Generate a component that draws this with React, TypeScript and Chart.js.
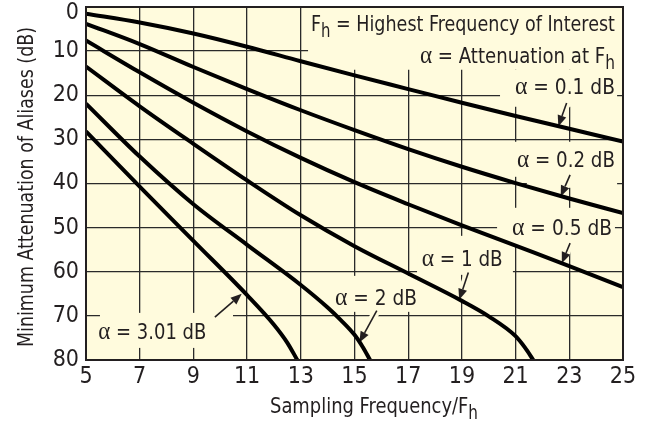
import { useEffect, useRef } from 'react';
import { Chart, registerables } from 'chart.js';

Chart.register(...registerables);

// ---------- data ----------
const xTicks = [5, 7, 9, 11, 13, 15, 17, 19, 21, 23, 25];
const yTicks = [0, 10, 20, 30, 40, 50, 60, 70, 80];

const freqFull = [5, 7, 9, 11, 13, 15, 17, 19, 21, 23, 25];
const att01 = [1.5, 3.5, 6.0, 9.0, 12.3, 15.5, 18.6, 21.7, 24.7, 27.6, 30.5];
const att02 = [3.8, 8.4, 13.6, 18.6, 23.4, 27.9, 32.2, 36.2, 39.9, 43.4, 46.7];
const att05 = [7.6, 14.8, 21.7, 28.2, 34.2, 39.7, 44.7, 49.5, 54.1, 58.7, 63.5];
const freq1 = [5, 7, 9, 11, 13, 15, 17, 19, 20, 21, 21.35, 21.66];
const att1 = [13.5, 22.5, 31.0, 39.3, 47.2, 54.2, 60.4, 66.6, 70.1, 74.6, 77.2, 80];
const freq2 = [5, 7, 9, 11, 13, 14, 14.5, 15, 15.3, 15.58];
const att2 = [21.9, 33.9, 44.7, 53.9, 63.0, 68.1, 71.0, 74.3, 77.0, 80];
const freq301 = [5, 7, 9, 11, 12, 12.5, 12.87];
const att301 = [28.2, 40.7, 53.0, 65.3, 72.0, 76.1, 80];

const alpha = 'α';
const curveLabels = [' = 0.1 dB', ' = 0.2 dB', ' = 0.5 dB', ' = 1 dB', ' = 2 dB', ' = 3.01 dB'];
const legendLine1 = ['F', 'h', ' = Highest Frequency of Interest'];
const legendLine2 = [' = Attenuation at F', 'h'];
const xTitle = ['Sampling Frequency/F', 'h'];
const yTitle = 'Minimum Attenuation of Aliases (dB)';

// ---------- styling ----------
const FONT = "'Liberation Sans Narrow', 'DejaVu Sans Condensed', 'Liberation Sans', sans-serif";
const SERIF = "'Liberation Serif', 'DejaVu Serif', serif";
const BG = '#fffbdd';
const INK = '#231f20';
const GRID = '#2a2a2a';

type Run = { t: string; sub?: boolean; serif?: boolean };
type Note = { runs: Run[]; x: number; y: number; align: 'left' | 'right'; w: number; size: number };
type Arrow = { x0: number; y0: number; x1: number; y1: number };
type Box = [number, number, number, number];

const pts = (xs: number[], ys: number[]) => xs.map((x, i) => ({ x, y: ys[i] }));
const lab = (i: number): Run[] => [{ t: alpha, serif: true }, { t: curveLabels[i] }];

// annotation geometry in data units
const notes: Note[] = [
  { runs: [{ t: legendLine1[0] }, { t: legendLine1[1], sub: true }, { t: legendLine1[2] }], x: 24.7, y: 5.53, align: 'right', w: 304, size: 22 },
  { runs: [{ t: alpha, serif: true }, { t: legendLine2[0] }, { t: legendLine2[1], sub: true }], x: 24.7, y: 12.7, align: 'right', w: 195, size: 22 },
  { runs: lab(0), x: 24.7, y: 19.73, align: 'right', w: 100, size: 22 },
  { runs: lab(1), x: 24.7, y: 36.15, align: 'right', w: 98, size: 22 },
  { runs: lab(2), x: 24.59, y: 51.63, align: 'right', w: 100, size: 22 },
  { runs: lab(3), x: 17.5, y: 58.66, align: 'left', w: 81, size: 22 },
  { runs: lab(4), x: 14.27, y: 67.5, align: 'left', w: 82, size: 22 },
  { runs: lab(5), x: 5.46, y: 75.28, align: 'left', w: 108, size: 22 },
];

const arrows: Arrow[] = [
  { x0: 22.9, y0: 21.77, x1: 22.59, y1: 27.07 },
  { x0: 23.03, y0: 38.03, x1: 22.68, y1: 42.95 },
  { x0: 23.03, y0: 53.51, x1: 22.72, y1: 58.05 },
  { x0: 19.24, y0: 60.18, x1: 18.9, y1: 66.37 },
  { x0: 15.83, y0: 68.8, x1: 15.18, y1: 76.05 },
  { x0: 9.8, y0: 70.29, x1: 10.8, y1: 65.01 },
];

const boxes: Box[] = [
  [13.27, 0, 25, 14.22],
  [20.42, 14.22, 24.78, 22.61],
  [20.79, 30.54, 24.78, 38.48],
  [21.42, 38.48, 24.78, 40.97],
  [20.31, 45.51, 24.7, 53.9],
  [17.33, 51.86, 20.9, 60.7],
  [14.2, 60.93, 17.44, 69.09],
  [5.52, 69.32, 10.475, 77.26],
];

function fontFor(r: Run, size: number) {
  const s = r.sub ? size * 0.85 : r.serif ? size * 1.15 : size;
  return `${s}px ${r.serif ? SERIF : FONT}`;
}

function drawRuns(ctx: CanvasRenderingContext2D, runs: Run[], px: number, py: number, align: 'left' | 'right' | 'center', w: number, size: number) {
  ctx.save();
  const widths = runs.map((r) => {
    ctx.font = fontFor(r, size);
    return ctx.measureText(r.t).width;
  });
  const total = widths.reduce((a, b) => a + b, 0);
  const sx = w / total;
  const start = align === 'right' ? px - w : align === 'center' ? px - w / 2 : px;
  ctx.translate(start, py);
  ctx.scale(sx, 1);
  ctx.fillStyle = INK;
  ctx.textBaseline = 'alphabetic';
  ctx.textAlign = 'left';
  let cx = 0;
  runs.forEach((r, i) => {
    ctx.font = fontFor(r, size);
    ctx.fillText(r.t, cx, r.sub ? size * 0.25 : 0);
    cx += widths[i];
  });
  ctx.restore();
}

const decorPlugin = {
  id: 'decor',
  beforeDraw(chart: any) {
    const { ctx, chartArea: a } = chart;
    ctx.save();
    ctx.fillStyle = BG;
    ctx.fillRect(a.left, a.top, a.right - a.left, a.bottom - a.top);
    ctx.restore();
  },
  beforeDatasetsDraw(chart: any) {
    const { ctx, chartArea: a, scales } = chart;
    const X = (v: number) => scales.x.getPixelForValue(v);
    const Y = (v: number) => scales.y.getPixelForValue(v);
    ctx.save();
    ctx.beginPath();
    ctx.rect(a.left, a.top, a.right - a.left, a.bottom - a.top);
    ctx.clip();
    ctx.fillStyle = BG;
    boxes.forEach(([x0, y0, x1, y1]) => {
      const l = X(x0), r = X(x1), t = Y(y0), b = Y(y1);
      ctx.fillRect(l, t, r - l, b - t);
    });
    arrows.forEach((ar) => {
      ctx.strokeStyle = BG;
      ctx.lineWidth = 8;
      ctx.beginPath();
      ctx.moveTo(X(ar.x0), Y(ar.y0));
      ctx.lineTo(X(ar.x1), Y(ar.y1));
      ctx.stroke();
    });
    arrows.forEach((ar) => {
      const x0 = X(ar.x0), y0 = Y(ar.y0), x1 = X(ar.x1), y1 = Y(ar.y1);
      const ang = Math.atan2(y1 - y0, x1 - x0);
      const L = 11, H = 4.5;
      const bx = x1 - L * Math.cos(ang), by = y1 - L * Math.sin(ang);
      ctx.strokeStyle = INK;
      ctx.lineWidth = 1.6;
      ctx.beginPath();
      ctx.moveTo(x0, y0);
      ctx.lineTo(bx, by);
      ctx.stroke();
      ctx.fillStyle = INK;
      ctx.beginPath();
      ctx.moveTo(x1, y1);
      ctx.lineTo(bx + H * Math.sin(ang), by - H * Math.cos(ang));
      ctx.lineTo(bx - H * Math.sin(ang), by + H * Math.cos(ang));
      ctx.closePath();
      ctx.fill();
    });
    notes.forEach((n) => drawRuns(ctx, n.runs, X(n.x), Y(n.y), n.align, n.w, n.size));
    ctx.restore();
  },
  afterDatasetsDraw(chart: any) {
    const { ctx, chartArea: a } = chart;
    ctx.save();
    ctx.strokeStyle = INK;
    ctx.lineWidth = 2;
    ctx.strokeRect(a.left, a.top, a.right - a.left, a.bottom - a.top);
    ctx.restore();
  },
  afterDraw(chart: any) {
    const { ctx, chartArea: a } = chart;
    drawRuns(ctx, [{ t: xTitle[0] }, { t: xTitle[1], sub: true }], 270, a.bottom + 53.3, 'left', 208, 22);
    ctx.save();
    ctx.translate(33, (a.top + a.bottom) / 2 + 3.5);
    ctx.rotate(-Math.PI / 2);
    drawRuns(ctx, [{ t: yTitle }], 0, 0, 'center', 320, 22);
    ctx.restore();
  },
};

export default function App() {
  const ref = useRef<HTMLCanvasElement | null>(null);
  useEffect(() => {
    if (!ref.current) return;
    const line = (data: { x: number; y: number }[]) => ({
      data,
      borderColor: '#000',
      borderWidth: 4,
      pointRadius: 0,
      cubicInterpolationMode: 'monotone' as const,
      fill: false,
    });
    const chart = new Chart(ref.current, {
      type: 'line',
      data: {
        datasets: [
          line(pts(freqFull, att01)),
          line(pts(freqFull, att02)),
          line(pts(freqFull, att05)),
          line(pts(freq1, att1)),
          line(pts(freq2, att2)),
          line(pts(freq301, att301)),
        ],
      },
      options: {
        animation: false,
        responsive: true,
        maintainAspectRatio: false,
        layout: { padding: { left: 0, right: 22, top: 7, bottom: 0 } },
        plugins: { legend: { display: false }, tooltip: { enabled: false } },
        scales: {
          x: {
            type: 'linear',
            min: 5,
            max: 25,
            afterBuildTicks: (s: any) => {
              s.ticks = xTicks.map((v) => ({ value: v }));
            },
            afterFit: (s: any) => {
              s.height = 63;
              s.paddingLeft = 0;
              s.paddingRight = 0;
            },
            grid: { color: GRID, lineWidth: 1.3, drawTicks: false },
            border: { display: false },
            ticks: { padding: 3, color: INK, font: { family: FONT, size: 23 }, autoSkip: false, maxRotation: 0 },
          },
          y: {
            type: 'linear',
            min: 0,
            max: 80,
            reverse: true,
            afterBuildTicks: (s: any) => {
              s.ticks = yTicks.map((v) => ({ value: v }));
            },
            afterFit: (s: any) => {
              s.width = 86;
              s.paddingTop = 0;
              s.paddingBottom = 0;
            },
            grid: { color: GRID, lineWidth: 1.3, drawTicks: false },
            border: { display: false },
            ticks: {
              padding: 7,
              color: INK,
              font: { family: FONT, size: 23, lineHeight: 0.5 },
              // the top label sits just below the axis end so it is not cut by the page edge
              callback: (v: any) => (Number(v) === yTicks[0] ? ['', String(v)] : String(v)),
            },
          },
        },
      },
      plugins: [decorPlugin],
    });
    return () => chart.destroy();
  }, []);
  return (
    <div style={{ position: 'fixed', left: 0, top: 0, width: 645, height: 423, background: '#fff' }}>
      <canvas ref={ref} />
    </div>
  );
}
